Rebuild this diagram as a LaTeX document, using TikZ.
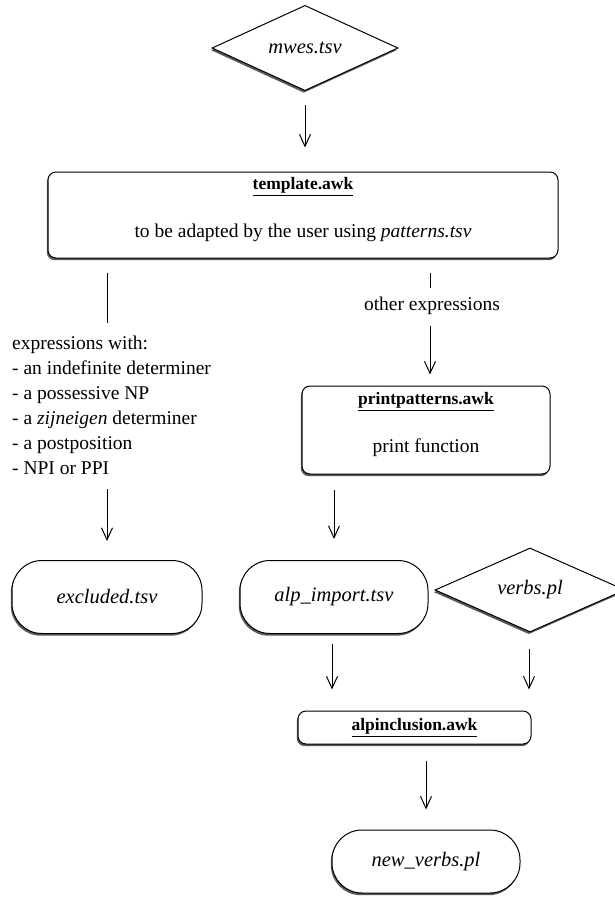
\documentclass[tikz,border=0pt]{standalone}
\usepackage{fontspec}
\setmainfont{Liberation Serif}
\usetikzlibrary{shapes.geometric,shadows,arrows.meta,calc}
\tikzset{
  shad/.style={drop shadow={shadow xshift=-1.2pt,shadow yshift=-2.2pt,fill=black!65,opacity=1}},
  procbox/.style={draw,line width=1pt,rounded corners=8pt,fill=white,shad,inner sep=0pt},
  stadium/.style={draw,line width=1pt,rounded corners=30pt,fill=white,shad,inner sep=0pt,font=\fontsize{20.5}{24}\selectfont\itshape},
  diam/.style={draw,diamond,line width=1pt,fill=white,shad,inner sep=0pt,font=\fontsize{20.5}{24}\selectfont\itshape},
  txt/.style={inner sep=0pt,font=\fontsize{19.5}{25}\selectfont},
  ttl/.style={inner sep=0pt,font=\fontsize{17.5}{21}\selectfont\bfseries},
  arr/.style={line width=1pt,-{Straight Barb[length=12pt,width=11pt]}},
  ln/.style={line width=1pt}
}
\begin{document}
\begin{tikzpicture}[x=1pt,y=-1pt]
\useasboundingbox (0,0) rectangle (615,898);
% nodes
\node[diam,minimum width=186pt,minimum height=74pt] (mwes) at (305,48) {mwes.tsv};
\node[procbox,minimum width=510pt,minimum height=86pt] (tmpl) at (303,215) {};
\node[ttl] (tmplt) at ($(tmpl.north)+(0,15)$) {\underline{template.awk}};
\node[txt] (tmpls) at ($(tmpl.south)+(0,-26)$) {to be adapted by the user using \textit{patterns.tsv}};
\node[txt,anchor=north west,align=left] (expr) at (12,336) {expressions with:\\- an indefinite determiner\\- a possessive NP\\- a \textit{zijneigen} determiner\\- a postposition\\- NPI or PPI};
\node[txt] (other) at (432,306) {other expressions};
\node[procbox,minimum width=248pt,minimum height=88pt] (pp) at (426,430) {};
\node[ttl] (ppt) at ($(pp.north)+(0,16)$) {\underline{printpatterns.awk}};
\node[txt] (pps) at ($(pp.south)+(0,-27)$) {print function};
\node[stadium,minimum width=190pt,minimum height=73pt] (excl) at (107,597) {excluded.tsv};
\node[stadium,minimum width=188pt,minimum height=73pt] (alp) at (334,597) {alp\_import.tsv};
\node[diam,minimum width=190pt,minimum height=76pt] (verbs) at (530,590) {verbs.pl};
\node[procbox,minimum width=233pt,minimum height=33pt,ttl] (inc) at (414.5,727.5) {\underline{alpinclusion.awk}};
\node[stadium,minimum width=188pt,minimum height=63pt] (newv) at (426,861.5) {new\_verbs.pl};
% connectors
\draw[arr,shorten <=14pt,shorten >=24pt] (mwes.south) -- (mwes.south |- tmpl.north);
\draw[ln,shorten <=14pt,shorten >=13pt] (excl.north |- tmpl.south) -- (excl.north |- expr.north);
\draw[arr,shorten <=14pt,shorten >=19pt] (excl.north |- expr.south) -- (excl.north);
\draw[ln,shorten <=14pt,shorten >=9pt] ([xshift=-2pt]other.north |- tmpl.south) -- ([xshift=-2pt]other.north);
\draw[arr,shorten <=11pt,shorten >=11pt] ([xshift=-2pt]other.south) -- ([xshift=-2pt]other.south |- pp.north);
\draw[arr,shorten <=15pt,shorten >=21pt] (alp.north |- pp.south) -- (alp.north);
\draw[arr,shorten <=10pt,shorten >=21pt] ([xshift=-2pt]alp.south) -- ([xshift=-2pt]alp.south |- inc.north);
\draw[arr,shorten <=16pt,shorten >=21pt] ([xshift=-1pt]verbs.south) -- ([xshift=-1pt]verbs.south |- inc.north);
\draw[arr,shorten <=16pt,shorten >=20pt] (newv.north |- inc.south) -- (newv.north);
\end{tikzpicture}
\end{document}
